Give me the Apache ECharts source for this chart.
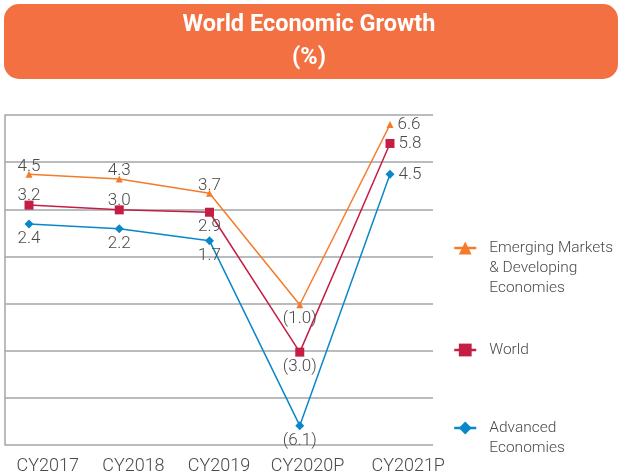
<!DOCTYPE html>
<html>
<head>
<meta charset="utf-8">
<script src="https://cdn.jsdelivr.net/npm/echarts@6/dist/echarts.min.js"></script>
<style>
  html, body { margin: 0; padding: 0; background: #fff; }
  #main { width: 619px; height: 475px; }
</style>
</head>
<body>
<div id="main"></div>
<script>
  // data
  var years = ['CY2017', 'CY2018', 'CY2019', 'CY2020P', 'CY2021P'];
  var emerging = [4.5, 4.3, 3.7, -1.0, 6.6];
  var world = [3.2, 3.0, 2.9, -3.0, 5.8];
  var advanced = [2.4, 2.2, 1.7, -6.1, 4.5];
  var seriesNames = ['Emerging Markets\n& Developing\nEconomies', 'World', 'Advanced\nEconomies'];

  // where each value label sits
  var emergingPos = ['top', 'top', 'top', 'bottom', 'right'];
  var worldPos = ['top', 'top', 'bottom', 'bottom', 'right'];
  var advancedPos = ['bottom', 'bottom', 'bottom', 'bottom', 'right'];

  // the year labels in the original are not quite centred; extra left padding per label
  var yearShift = [0, 0, 0, 6, 36];

  var textColor = '#4a4a4a';
  var gridColor = '#a2a6aa';

  function fmt(v) {
    return v < 0 ? '(' + Math.abs(v).toFixed(1) + ')' : v.toFixed(1);
  }

  function points(values, pos) {
    return values.map(function (v, i) {
      var d = pos[i] === 'right' ? 4 : (pos[i] === 'top' ? -4 : 2);
      return {
        value: v,
        label: {position: pos[i], distance: d}
      };
    });
  }

  function lineSeries(name, values, pos, color, symbol, size) {
    return {
      name: name,
      type: 'line',
      xAxisIndex: 1,
      yAxisIndex: 1,
      symbol: symbol,
      symbolSize: size,
      showAllSymbol: true,
      lineStyle: {color: color, width: 1.5},
      itemStyle: {color: color},
      label: {
        show: true,
        color: textColor,
        fontSize: 17,
        fontFamily: 'Roboto',
        fontWeight: 300,
        formatter: function (p) { return fmt(p.value); }
      },
      emphasis: {disabled: true},
      data: points(values, pos)
    };
  }

  // legend text is padded with blank lines so the first line lines up with the icon
  function legendBox(name, top) {
    return {
      data: [name],
      left: 448,
      top: top,
      itemWidth: 22,
      itemHeight: 16,
      selectedMode: false,
      lineStyle: {width: 2.5},
      formatter: function (n) {
        var lines = n.split('\n').length;
        return new Array(lines).join('\n') + n;
      },
      textStyle: {
        color: textColor,
        fontSize: 15.5,
        fontFamily: 'Roboto',
        fontWeight: 300,
        lineHeight: 20,
        padding: [0, 0, 0, 8]
      }
    };
  }

  var myChart = echarts.init(document.getElementById('main'));
  myChart.setOption({
    animation: false,
    textStyle: {fontFamily: 'Roboto'},
    graphic: [
      {
        type: 'rect',
        shape: {x: 4, y: 4, width: 614, height: 75, r: 15},
        style: {fill: '#f37042'},
        z: 0
      },
      {
        type: 'text',
        x: 309, y: 25,
        style: {
          text: 'World Economic Growth',
          fill: '#fff', font: 'bold 23.5px Roboto',
          textAlign: 'center', textVerticalAlign: 'middle'
        }
      },
      {
        type: 'text',
        x: 309, y: 58,
        style: {
          text: '(%)',
          fill: '#fff', font: 'bold 23.5px Roboto',
          textAlign: 'center', textVerticalAlign: 'middle'
        }
      }
    ],
    legend: [
      legendBox(seriesNames[0], 193),
      legendBox(seriesNames[1], 335),
      legendBox(seriesNames[2], 393)
    ],
    grid: [
      {left: 5, right: 186, top: 115, bottom: 28},
      {left: 29, right: 229, top: 115, bottom: 28}
    ],
    xAxis: [
      {
        gridIndex: 0,
        type: 'category',
        boundaryGap: true,
        data: years.map(function (y, i) {
          return {value: y, textStyle: {padding: [0, 0, 0, yearShift[i]]}};
        }),
        axisLine: {show: false},
        axisTick: {show: false},
        axisLabel: {color: textColor, fontSize: 18, fontWeight: 300, margin: 12, interval: 0}
      },
      {
        gridIndex: 1,
        type: 'category',
        boundaryGap: false,
        data: years,
        show: false
      }
    ],
    yAxis: [
      {
        gridIndex: 0,
        type: 'value',
        min: -7,
        max: 7,
        interval: 2,
        axisLabel: {show: false},
        axisTick: {show: false},
        axisLine: {show: true, lineStyle: {color: gridColor, width: 1.5}},
        splitLine: {lineStyle: {color: gridColor, width: 1.5}}
      },
      {gridIndex: 1, type: 'value', min: -7, max: 7, show: false}
    ],
    series: [
      lineSeries(seriesNames[0], emerging, emergingPos, '#f47b2a', 'triangle', 7),
      lineSeries(seriesNames[1], world, worldPos, '#c41e45', 'rect', 9),
      lineSeries(seriesNames[2], advanced, advancedPos, '#0a87c9', 'diamond', 9)
    ]
  });
</script>
</body>
</html>
